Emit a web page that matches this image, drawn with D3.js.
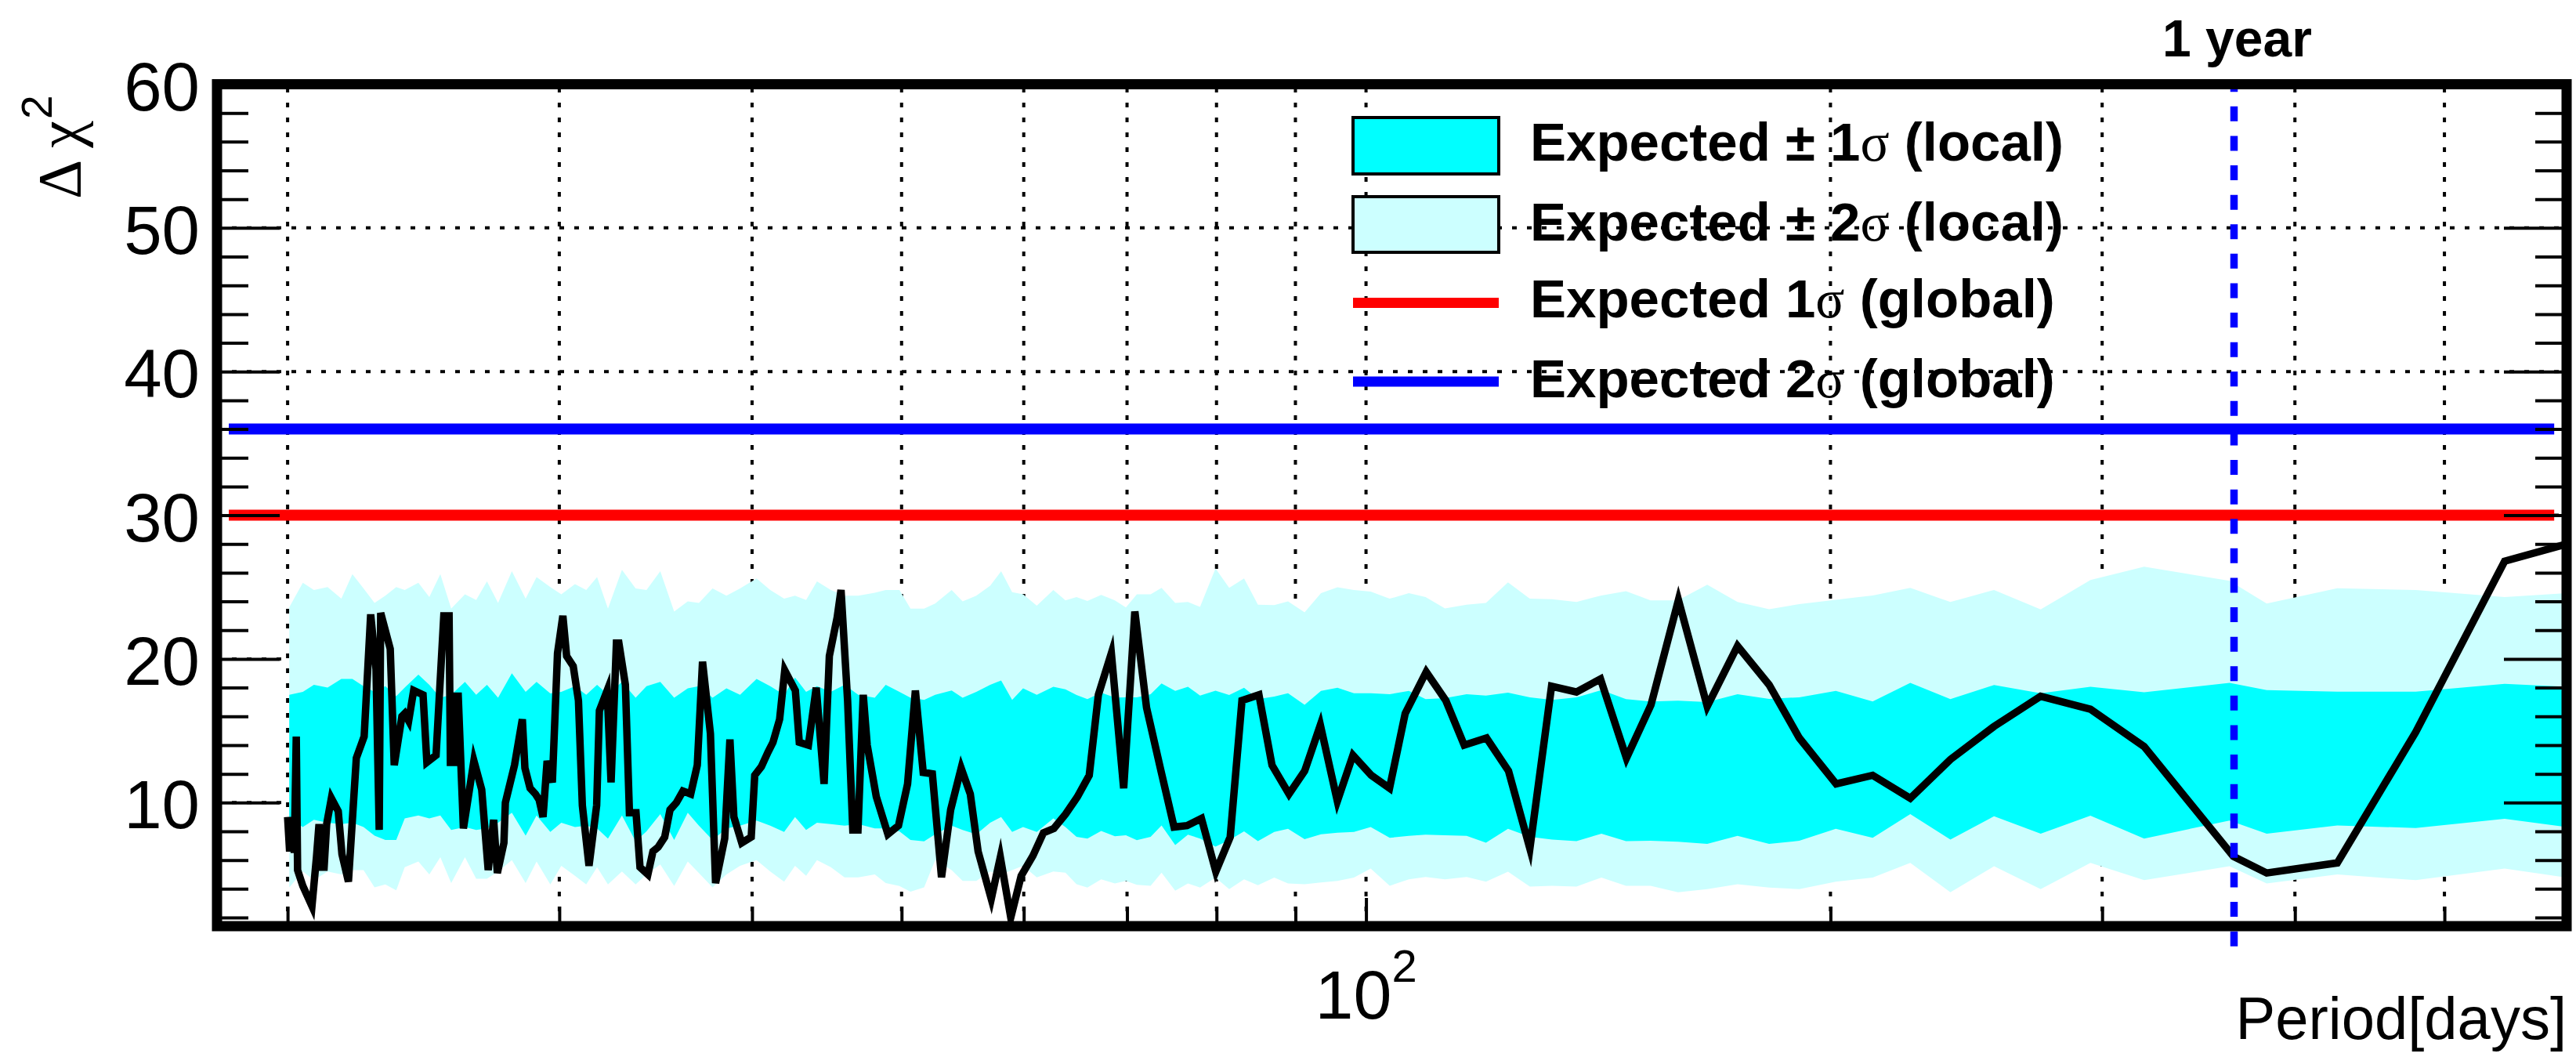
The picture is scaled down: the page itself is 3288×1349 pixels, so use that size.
<!DOCTYPE html>
<html><head><meta charset="utf-8">
<script src="https://cdn.jsdelivr.net/npm/d3@7"></script>
<style>body{margin:0;background:#fff}</style>
</head><body>
<script>
// ---------------- data ----------------
const xDomain = [18, 600];
const yDomain = [1.4, 60];
const yMajorTicks = [10, 20, 30, 40, 50, 60];
const yMinorTicks = [2,4,6,8,12,14,16,18,22,24,26,28,32,34,36,38,42,44,46,48,52,54,56,58];
const xMajorTicks = [100];
const xMinorTicks = [20,30,40,50,60,70,80,90,200,300,400,500];
const xTickLabelBase = "10", xTickLabelExp = "2";
const global1Sigma = 30, global2Sigma = 36;
const thresholdRange = [18.32, 589];
const oneYearDays = 365.25;
const legendLabels = [
  ["Expected \u00b1 1", "\u03c3", " (local)"],
  ["Expected \u00b1 2", "\u03c3", " (local)"],
  ["Expected 1", "\u03c3", " (global)"],
  ["Expected 2", "\u03c3", " (global)"]
];

const obsPeriod = [20.00,20.06,20.13,20.20,20.26,20.30,20.46,20.74,20.88,20.96,21.05,21.12,21.20,21.35,21.57,21.69,21.90,22.16,22.42,22.64,22.82,22.93,22.98,23.31,23.45,23.72,23.82,23.96,24.14,24.48,24.62,24.96,25.25,25.45,25.50,25.65,25.70,25.80,26.00,26.41,26.72,26.98,27.20,27.35,27.62,27.68,28.06,28.39,
28.50,28.72,28.95,29.11,29.28,29.46,29.69,29.92,30.16,30.33,30.63,30.87,31.05,31.36,31.72,31.85,32.22,32.41,32.67,32.79,33.11,33.31,33.64,33.84,34.24,34.50,34.77,35.11,35.39,35.73,36.08,36.50,36.86,37.15,37.59,37.88,38.40,38.70,38.93,39.39,39.95,40.16,
40.56,40.96,41.27,41.68,42.00,42.67,42.92,43.51,44.02,44.54,44.89,45.42,45.68,46.13,46.49,46.85,47.22,47.50,48.15,48.99,49.77,50.45,51.04,51.64,52.35,53.07,53.80,54.65,55.40,56.05,57.16,
57.94,58.85,59.77,60.83,61.79,62.76,63.87,65.00,66.16,67.07,68.38,69.65,70.82,72.07,73.64,75.09,76.56,78.22,79.92,
81.65,83.10,85.23,86.91,89.14,91.25,93.41,95.81,98.07,100.78,103.57,106.02,109.4,112.65,115.78,119.7,123.7,
127.7,131.9,136.9,141.9,147.5,153.0,159.4,166.4,174.1,182.5,190.9,201.7,
213.0,225.3,239.2,255.3,273.7,294.8,319.4,364.9,383.5,426.1,479.0,547.0,600];
const obsDchi2 = [9.0,6.6,8.6,6.5,14.6,5.3,4.2,2.8,6.2,8.5,5.5,5.5,8.5,10.3,9.4,6.4,4.5,13.1,14.6,23.1,19.3,8.1,23.2,20.7,12.6,16.0,16.2,15.7,17.8,17.5,12.8,13.3,23.0,23.0,12.8,12.8,17.4,17.4,8.2,12.9,10.9,5.3,8.8,5.1,7.2,10.0,12.6,15.8,
12.4,11.0,10.6,10.2,9.0,12.9,11.4,20.4,23.0,20.2,19.5,17.1,9.8,5.6,9.8,16.4,17.8,11.4,21.1,21.1,18.2,9.3,9.3,5.5,5.0,6.6,6.9,7.6,9.5,10.0,10.8,10.6,12.6,19.8,14.8,4.4,7.5,14.4,9.0,7.2,7.6,11.9,
12.5,13.5,14.2,15.8,19.2,17.8,14.2,14.0,18.0,11.3,20.2,22.9,24.8,17.1,8.1,8.1,17.5,14.0,10.4,7.8,8.4,11.3,17.8,12.1,12.0,4.8,9.5,12.4,10.6,6.6,3.3,
6.2,2.0,4.9,6.3,7.9,8.2,9.2,10.4,11.9,17.5,20.4,11.0,23.3,16.6,12.2,8.3,8.4,8.9,5.2,
7.6,17.1,17.5,12.6,10.6,12.2,15.4,10.1,13.3,11.9,11.0,16.2,19.1,17.1,14.0,14.5,12.2,
6.8,18.1,17.7,18.6,13.1,16.8,24.1,16.7,20.9,18.2,14.5,11.3,
11.9,10.3,13.0,15.3,17.4,16.5,13.9,6.25,5.1,5.8,14.9,26.8,28.0];

const bandPeriod = [20.05,20.46,20.80,21.23,21.67,22.03,22.40,22.77,23.14,23.52,23.82,24.31,24.71,25.12,25.53,26.06,26.50,26.93,27.38,27.95,28.53,29.00,29.60,30.09,30.71,31.23,31.74,32.26,32.94,33.62,34.17,34.88,35.61,36.34,36.95,37.71,38.50,39.29,40.27,41.10,41.96,42.65,43.36,44.07,44.99,45.92,46.87,48.04,48.83,49.84,50.67,51.71,52.57,53.88,54.77,55.90,57.07,58.01,58.97,59.94,61.18,62.71,
63.85,64.92,65.98,67.35,68.74,69.88,71.03,72.51,73.70,75.22,76.66,78.06,79.88,81.53,83.36,85.10,87.20,89.01,91.24,93.50,95.83,98.21,100.7,103.6,106.6,109.3,112.5,116.2,119.6,123.6,127.7,132.0,136.9,142.1,147.4,152.9,159.3,166.4,174.1,182.5,190.9,
201.6,213.0,225.3,239.2,255.3,273.7,294.8,319.4,362.8,383.5,426.1,479.0,547.0,600];
const band2Up = [23.6,25.3,24.8,25.0,24.2,25.9,24.9,23.9,24.4,25.0,24.8,25.3,24.3,25.9,23.5,24.5,24.1,25.4,23.9,26.1,24.2,25.7,25.0,24.5,25.2,24.8,25.7,23.5,26.2,24.9,24.8,26.1,23.3,24.0,23.9,24.9,24.4,24.9,25.6,24.8,24.2,24.4,24.1,25.4,24.8,24.4,24.4,24.6,24.8,24.8,23.5,23.5,23.85,24.8,24.0,24.4,25.1,26.1,24.65,24.5,23.7,24.8,
24.08,24.30,24.03,24.46,24.08,23.58,24.49,24.49,24.94,23.90,23.96,23.62,26.30,24.94,25.60,23.78,23.74,24.01,23.24,24.58,24.99,24.80,24.69,24.19,24.58,24.30,23.51,23.78,23.90,25.33,24.19,24.15,23.96,24.42,24.71,24.08,24.08,25.17,23.96,23.46,23.81,
24.12,24.42,24.94,23.96,24.80,23.44,25.49,26.42,25.44,23.85,24.92,24.80,24.30,24.58];
const band1Up = [17.5,17.7,18.2,18.0,18.6,18.6,18.1,17.7,18.1,17.4,18.0,18.9,18.2,17.3,17.5,18.4,17.5,18.2,17.3,19.0,17.7,18.4,17.6,17.7,18.1,17.5,18.2,17.5,18.4,17.3,18.1,18.4,17.3,17.95,18.1,17.3,17.95,17.5,18.6,18.1,17.5,18.7,17.7,18.1,17.7,18.2,17.5,17.3,18.2,17.7,17.3,17.15,17.5,17.8,17.3,17.7,18.2,18.5,17.15,17.95,17.5,18.06,
17.88,17.49,17.20,17.65,17.31,17.33,17.33,17.54,18.29,17.77,18.06,17.45,17.79,17.49,17.99,17.20,17.38,17.61,16.81,17.77,17.99,17.61,17.61,17.54,17.77,17.20,17.27,17.54,17.45,17.65,17.33,17.15,17.33,17.83,17.20,17.04,17.09,17.00,17.54,17.22,17.33,
17.77,17.04,18.33,17.20,18.18,17.61,18.06,17.68,18.33,17.83,17.72,17.72,18.27,18.06];
const band1Lo = [8.9,8.3,8.8,8.6,8.5,8.6,8.3,7.7,7.4,7.4,8.9,9.1,8.9,9.1,8.1,8.3,8.1,8.2,8.6,9.3,7.7,9.1,7.96,8.6,8.3,8.4,8.2,7.5,9.1,7.3,8.0,9.2,7.4,9.3,8.4,7.4,8.2,8.4,8.75,8.4,7.96,9.0,8.1,8.6,8.5,8.4,8.5,8.2,8.2,8.0,7.4,7.3,7.8,8.4,8.1,7.8,8.6,9.0,7.96,8.3,7.96,8.9,
8.30,7.62,7.50,8.02,7.66,7.73,7.39,7.62,8.41,7.05,7.77,7.50,6.94,7.39,8.00,7.32,7.96,8.18,7.46,7.80,7.91,7.96,8.30,7.55,7.68,7.77,7.73,7.68,7.21,8.18,7.62,7.43,7.32,7.84,7.32,7.34,7.28,7.12,7.68,7.12,7.34,
8.18,7.55,9.20,7.43,9.05,7.84,9.09,7.50,8.75,7.84,8.41,8.23,8.87,8.30];
const band2Lo = [4.1,5.2,4.6,5.2,5.0,5.3,5.3,4.1,4.3,3.9,5.5,5.9,5.0,6.2,4.4,6.2,4.7,4.7,5.2,6.0,4.4,5.9,4.3,5.6,4.9,4.3,5.5,4.3,5.2,4.3,5.0,5.7,4.2,5.9,5.1,4.1,5.0,5.6,6.0,5.2,4.5,5.6,4.9,6.0,5.5,4.8,4.8,5.0,4.4,4.2,3.8,4.1,6.0,5.3,4.55,4.55,5.2,5.0,5.3,5.6,4.8,5.2,
5.12,4.32,4.09,4.66,4.37,4.55,4.28,4.21,5.12,3.87,4.37,4.09,4.78,3.98,4.66,4.25,4.78,4.37,4.32,4.44,4.55,4.78,5.41,4.21,4.66,4.82,4.66,4.82,4.50,5.19,4.16,4.21,4.16,4.78,4.21,4.21,3.76,3.98,4.32,4.09,3.98,
4.50,4.78,5.80,3.76,5.57,3.98,5.80,4.60,5.57,4.37,5.00,4.60,5.41,4.78];

// ---------------- layout ----------------
const W = 3288, H = 1349;
const X0 = 277, X1 = 3276, Y0 = 1182, Y1 = 107.5;
const SANS = "'Liberation Sans', Arial, Helvetica, sans-serif";
const SERIF = "'Liberation Serif', 'DejaVu Serif', serif";

const svg = d3.select("body").append("svg")
  .attr("width", W).attr("height", H).style("display", "block")
  .style("background", "#fff");

const x = d3.scaleLog().domain(xDomain).range([X0, X1]);
const y = d3.scaleLinear().domain(yDomain).range([Y0, Y1]);

svg.append("defs").append("clipPath").attr("id", "clip")
  .append("rect").attr("x", X0).attr("y", Y1).attr("width", X1 - X0).attr("height", Y0 - Y1);

// grid
const grid = svg.append("g").attr("stroke", "#000").attr("stroke-width", 4)
  .attr("stroke-dasharray", "6,13").attr("fill", "none");
grid.selectAll("line.v").data(xMinorTicks.concat(xMajorTicks)).join("line").attr("class", "v")
  .attr("x1", d => x(d)).attr("x2", d => x(d)).attr("y1", Y0).attr("y2", Y1);
grid.selectAll("line.h").data(yMajorTicks.filter(v => v < 60)).join("line").attr("class", "h")
  .attr("x1", X0).attr("x2", X1).attr("y1", d => y(d)).attr("y2", d => y(d));

// bands
const bandData = bandPeriod.map((p, i) => ({p, h2: band2Up[i], h1: band1Up[i], l1: band1Lo[i], l2: band2Lo[i]}));
const plot = svg.append("g").attr("clip-path", "url(#clip)");
plot.append("path").datum(bandData).attr("fill", "#ccffff")
  .attr("d", d3.area().x(d => x(d.p)).y0(d => y(d.l2)).y1(d => y(d.h2)));
plot.append("path").datum(bandData).attr("fill", "#00ffff")
  .attr("d", d3.area().x(d => x(d.p)).y0(d => y(d.l1)).y1(d => y(d.h1)));

// observed
const obs = obsPeriod.map((p, i) => ({p, v: obsDchi2[i]}));
plot.append("path").datum(obs).attr("fill", "none").attr("stroke", "#000")
  .attr("stroke-width", 9.5).attr("stroke-linejoin", "miter").attr("stroke-miterlimit", 6)
  .attr("d", d3.line().x(d => x(d.p)).y(d => y(d.v)));

// thresholds
svg.append("line").attr("x1", x(thresholdRange[0])).attr("x2", x(thresholdRange[1]))
  .attr("y1", y(global1Sigma)).attr("y2", y(global1Sigma)).attr("stroke", "#ff0000").attr("stroke-width", 14);
svg.append("line").attr("x1", x(thresholdRange[0])).attr("x2", x(thresholdRange[1]))
  .attr("y1", y(global2Sigma)).attr("y2", y(global2Sigma)).attr("stroke", "#0000ff").attr("stroke-width", 14);

// 1 year line (from 0 to 60)
const yZero = y(0);
svg.append("line").attr("x1", x(oneYearDays)).attr("x2", x(oneYearDays))
  .attr("y1", yZero).attr("y2", y(60)).attr("stroke", "#0000ff").attr("stroke-width", 9.5)
  .attr("stroke-dasharray", "19,18.6");
svg.append("text").attr("x", x(oneYearDays) + 4).attr("y", 72).attr("text-anchor", "middle")
  .attr("font-family", SANS).attr("font-weight", "bold").attr("font-size", 66).text("1 year");

// ticks via axes
function styleAxis(g) {
  g.select(".domain").remove();
  g.selectAll(".tick line").attr("stroke", "#000").attr("stroke-width", 4);
  g.selectAll(".tick text").remove();
}
svg.append("g").attr("transform", `translate(${X0},0)`)
  .call(d3.axisRight(y).tickValues(yMajorTicks).tickSize(80)).call(styleAxis);
svg.append("g").attr("transform", `translate(${X0},0)`)
  .call(d3.axisRight(y).tickValues(yMinorTicks).tickSize(40)).call(styleAxis);
svg.append("g").attr("transform", `translate(${X1},0)`)
  .call(d3.axisLeft(y).tickValues(yMajorTicks).tickSize(80)).call(styleAxis);
svg.append("g").attr("transform", `translate(${X1},0)`)
  .call(d3.axisLeft(y).tickValues(yMinorTicks).tickSize(40)).call(styleAxis);
svg.append("g").attr("transform", `translate(0,${Y0})`)
  .call(d3.axisTop(x).tickValues(xMajorTicks).tickSize(36)).call(styleAxis);
svg.append("g").attr("transform", `translate(0,${Y0})`)
  .call(d3.axisTop(x).tickValues(xMinorTicks).tickSize(25)).call(styleAxis);

// frame
svg.append("rect").attr("x", X0).attr("y", Y1).attr("width", X1 - X0).attr("height", Y0 - Y1)
  .attr("fill", "none").attr("stroke", "#000").attr("stroke-width", 13);

// y tick labels
svg.append("g").selectAll("text").data(yMajorTicks).join("text")
  .attr("x", 255).attr("y", d => y(d) + 33).attr("text-anchor", "end")
  .attr("font-family", SANS).attr("font-size", 87).text(d => d);

// x tick label 10^2
const xl = svg.append("text").attr("x", x(100)).attr("y", 1300).attr("text-anchor", "middle")
  .attr("font-family", SANS).attr("font-size", 88);
xl.append("tspan").text(xTickLabelBase);
xl.append("tspan").attr("font-size", 58).attr("dy", -47).text(xTickLabelExp);

// axis titles
svg.append("text").attr("x", X1).attr("y", 1326).attr("text-anchor", "end")
  .attr("font-family", SANS).attr("font-size", 76).text("Period[days]");
const yt = svg.append("text").attr("transform", "translate(102,254) rotate(-90)")
  .attr("font-family", SERIF).attr("font-size", 78);
yt.append("tspan").text("\u0394 \u03c7");
yt.append("tspan").attr("font-family", SANS).attr("font-size", 55).attr("dy", -36).attr("dx", 2).text("2");

// legend
const lg = svg.append("g");
const rowY = [186, 286.5, 386.5, 487];
const swX = 1727, swW = 186;
lg.append("rect").attr("x", swX).attr("y", 150).attr("width", swW).attr("height", 72)
  .attr("fill", "#00ffff").attr("stroke", "#000").attr("stroke-width", 4);
lg.append("rect").attr("x", swX).attr("y", 251).attr("width", swW).attr("height", 71)
  .attr("fill", "#ccffff").attr("stroke", "#000").attr("stroke-width", 4);
lg.append("line").attr("x1", swX).attr("x2", swX + swW).attr("y1", rowY[2]).attr("y2", rowY[2])
  .attr("stroke", "#ff0000").attr("stroke-width", 13);
lg.append("line").attr("x1", swX).attr("x2", swX + swW).attr("y1", rowY[3]).attr("y2", rowY[3])
  .attr("stroke", "#0000ff").attr("stroke-width", 13);
const baselines = [205, 307, 405, 507];
legendLabels.forEach((parts, i) => {
  const t = lg.append("text").attr("x", 1953).attr("y", baselines[i])
    .attr("font-family", SANS).attr("font-weight", "bold").attr("font-size", 69);
  t.append("tspan").text(parts[0]);
  t.append("tspan").attr("font-family", SERIF).attr("font-weight", "normal").text(parts[1]);
  t.append("tspan").text(parts[2]);
});
</script>
</body></html>
